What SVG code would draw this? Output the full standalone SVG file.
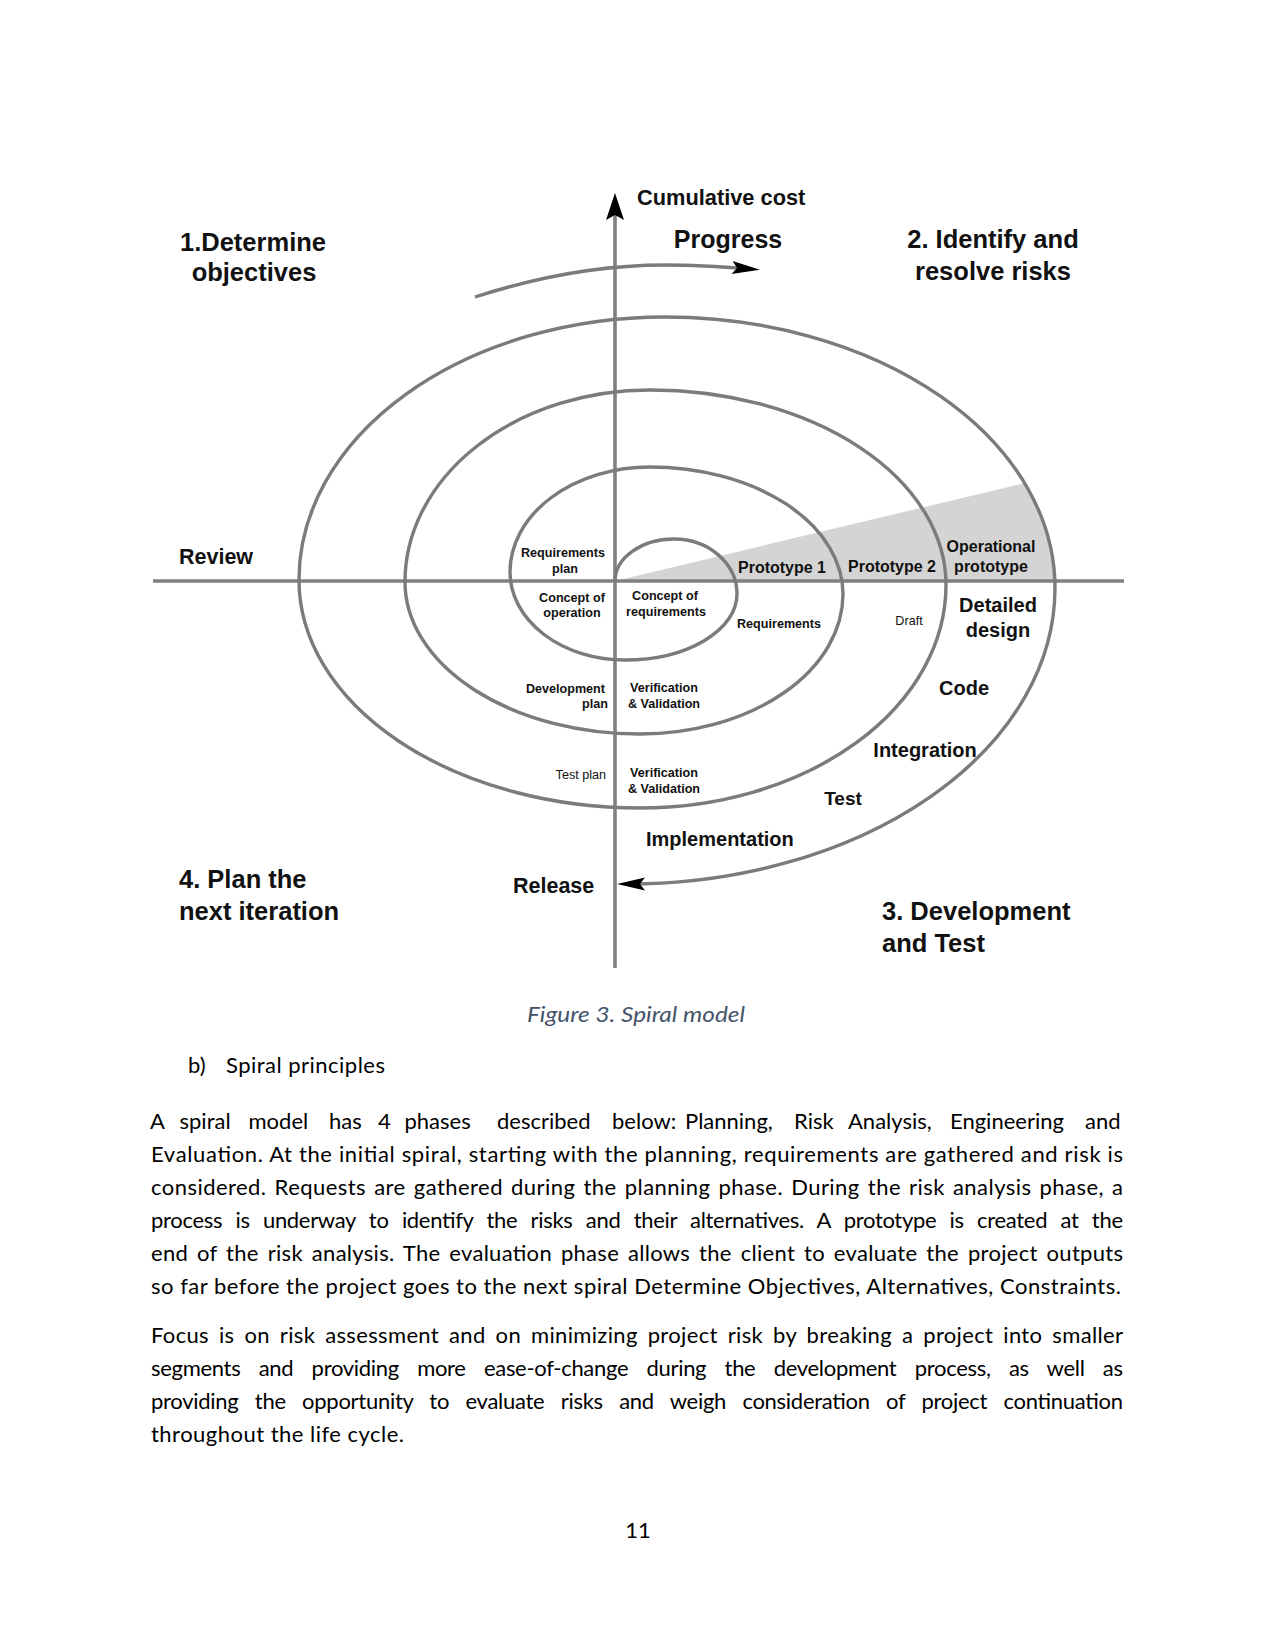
<svg xmlns="http://www.w3.org/2000/svg" width="1275" height="1651" viewBox="0 0 1275 1651">
<defs>
<style>
.ln{fill:none;stroke:#7b7b7b;stroke-width:3.4}
.ax{fill:none;stroke:#808080;stroke-width:3.6}
.d{font-family:"Liberation Sans",Arial,sans-serif;font-weight:bold;fill:#111}
.big{font-size:25.5px}
.mid{font-size:20px}
.sm{font-size:12.6px}
.pt{font-size:16px}
.c{text-anchor:middle}
.r{text-anchor:end}
.n{font-weight:normal}
.b{font-family:Lato,"Liberation Sans",sans-serif;font-size:22px;fill:#000}
</style>
<marker id="ah" markerUnits="userSpaceOnUse" markerWidth="40" markerHeight="20" viewBox="-20 -10 40 20" refX="0" refY="0" orient="auto">
<path d="M10,0 L-18,-6.5 L-13,0 L-18,6.5 Z" fill="#000"/>
</marker>
</defs>
<rect width="1275" height="1651" fill="#fff"/>
<g id="wedge">
<path d="M615,581 L1025,483 A390,271 0 0 1 1055,581 Z" fill="#d4d4d4"/>
</g>
<g id="axes">
<path class="ax" d="M153,581 L1124,581"/>
<path class="ax" d="M615,968 L615,212"/>
<path d="M615,193 L624,220 L615,215 L606,220 Z" fill="#000"/>
</g>
<g id="connectors">
<path id="spiral" class="ln" marker-end="url(#ah)" d="M615,581 A59,42 0 0 1 674,539 A63,55 0 0 1 737,594 A112,66 0 0 1 625,660 A115,88 0 0 1 510,572 A140,105 0 0 1 650,467 A193,127 0 0 1 843,594 A203,140 0 0 1 640,734 A235,152 0 0 1 405,582 A245,192 0 0 1 650,390 A296,195 0 0 1 946,585 A306,223 0 0 1 640,808 A341,228 0 0 1 299,580 A366,263 0 0 1 665,317 A390,271 0 0 1 1055,588 A428,296 0 0 1 627,884"/>
<path id="progress-arrow" class="ln" marker-end="url(#ah)" d="M475,297 C540,276 600,265 665,265 C695,265 725,267 750,269"/>
</g>
<g id="quadrant-titles" class="d big">
<text class="c" x="253" y="251">1.Determine</text>
<text class="c" x="254" y="281">objectives</text>
<text class="c" x="993" y="248">2. Identify and</text>
<text class="c" x="993" y="280">resolve risks</text>
<text x="179" y="888">4. Plan the</text>
<text x="179" y="920">next iteration</text>
<text x="882" y="920">3. Development</text>
<text x="882" y="952">and Test</text>
</g>
<g id="axis-labels" class="d">
<text x="637" y="205" style="font-size:21.8px">Cumulative cost</text>
<text class="c" x="728" y="248" style="font-size:25px">Progress</text>
<text x="179" y="564" style="font-size:21.5px">Review</text>
<text x="513" y="893" style="font-size:21.5px">Release</text>
</g>
<g id="inner-labels" class="d sm">
<text class="c" x="563" y="557">Requirements</text>
<text class="c" x="565" y="573">plan</text>
<text class="c" x="572" y="602">Concept of</text>
<text class="c" x="572" y="617">operation</text>
<text class="r" x="605" y="693">Development</text>
<text class="r" x="608" y="708">plan</text>
<text class="r n" x="606" y="779">Test plan</text>
<text class="c" x="665" y="600">Concept of</text>
<text class="c" x="666" y="616">requirements</text>
<text class="c" x="664" y="692">Verification</text>
<text class="c" x="664" y="708">&amp; Validation</text>
<text class="c" x="664" y="777">Verification</text>
<text class="c" x="664" y="793">&amp; Validation</text>
<text class="c" x="779" y="628">Requirements</text>
<text class="c n" x="909" y="625">Draft</text>
</g>
<g id="prototype-labels" class="d pt">
<text class="c" x="782" y="573">Prototype 1</text>
<text class="c" x="892" y="572">Prototype 2</text>
<text class="c" x="991" y="552">Operational</text>
<text class="c" x="991" y="572">prototype</text>
</g>
<g id="dev-labels" class="d mid">
<text class="c" x="998" y="612">Detailed</text>
<text class="c" x="998" y="637">design</text>
<text class="c" x="964" y="695">Code</text>
<text class="c" x="925" y="757">Integration</text>
<text class="c" x="843" y="805" style="font-size:19px">Test</text>
<text x="646" y="846">Implementation</text>
</g>
<g id="caption">
<text x="527" y="1022" textLength="218" lengthAdjust="spacingAndGlyphs" style="font-family:Lato,'Liberation Sans',sans-serif;font-size:22px;font-style:italic;fill:#44546A">Figure 3. Spiral model</text>
</g>
<g id="body" class="b">
<text x="188" y="1073">b)</text>
<text x="226" y="1073" textLength="159" lengthAdjust="spacing">Spiral principles</text>
<text y="1129"><tspan x="150">A</tspan><tspan x="179.5">spiral</tspan><tspan x="248.5">model</tspan><tspan x="329">has</tspan><tspan x="378">4</tspan><tspan x="404.5">phases</tspan><tspan x="497">described</tspan><tspan x="612">below:</tspan><tspan x="685">Planning,</tspan><tspan x="794">Risk</tspan><tspan x="848">Analysis,</tspan><tspan x="950">Engineering</tspan><tspan x="1085">and</tspan></text>
<text x="151" y="1162" textLength="972" lengthAdjust="spacing">Evaluation. At the initial spiral, starting with the planning, requirements are gathered and risk is</text>
<text x="151" y="1195" textLength="972" lengthAdjust="spacing" word-spacing="2">considered. Requests are gathered during the planning phase. During the risk analysis phase, a</text>
<text x="151" y="1228" textLength="972" lengthAdjust="spacing" word-spacing="8">process is underway to identify the risks and their alternatives. A prototype is created at the</text>
<text x="151" y="1261" textLength="972" lengthAdjust="spacing" word-spacing="3">end of the risk analysis. The evaluation phase allows the client to evaluate the project outputs</text>
<text x="151" y="1294" textLength="970" lengthAdjust="spacing">so far before the project goes to the next spiral Determine Objectives, Alternatives, Constraints.</text>
<text x="151" y="1343" textLength="972" lengthAdjust="spacing" word-spacing="4">Focus is on risk assessment and on minimizing project risk by breaking a project into smaller</text>
<text x="151" y="1376" textLength="972" lengthAdjust="spacing" word-spacing="13">segments and providing more ease-of-change during the development process, as well as</text>
<text x="151" y="1409" textLength="972" lengthAdjust="spacing" word-spacing="11">providing the opportunity to evaluate risks and weigh consideration of project continuation</text>
<text x="151" y="1442" textLength="253" lengthAdjust="spacing">throughout the life cycle.</text>
<text x="638" y="1538" text-anchor="middle">11</text>
</g>
</svg>
